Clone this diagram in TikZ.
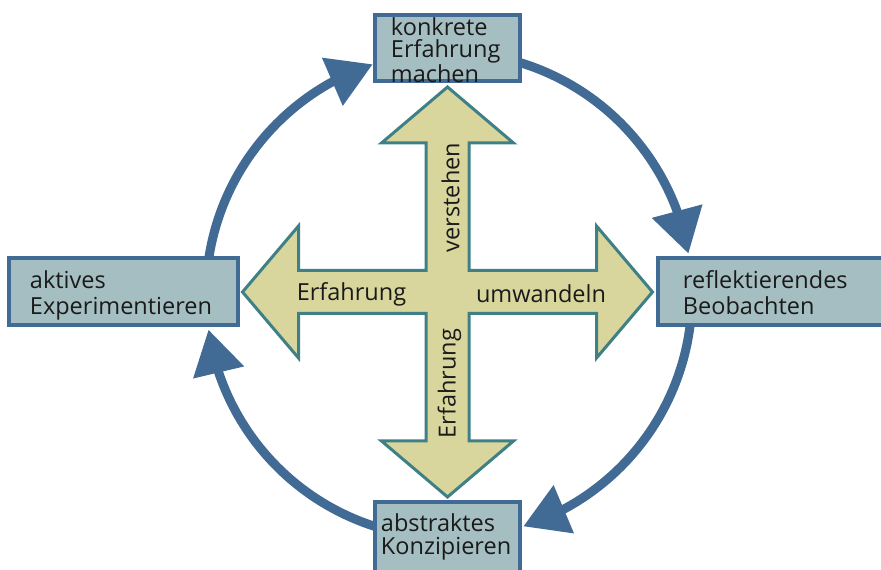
\documentclass[tikz,border=0pt]{standalone}
\usepackage{fontspec}
\setmainfont{Open Sans}
\usetikzlibrary{arrows.meta,bending}
\definecolor{boxblue}{HTML}{416A94}
\definecolor{boxfill}{HTML}{A5BEC2}
\definecolor{crossfill}{HTML}{D8D69C}
\definecolor{crossline}{HTML}{3F8086}
\definecolor{textblack}{HTML}{1A1A1A}
\begin{document}
\begin{tikzpicture}[x=1pt,y=1pt,
  box/.style={draw=boxblue, fill=boxfill, line width=4.5pt, inner sep=0pt},
  boxtext/.style={inner sep=0pt, align=left, anchor=west, text=textblack},
  cyclearrow/.style={draw=boxblue, line width=9pt, -{Triangle[length=44pt,width=50pt]}},
  crosslabel/.style={inner sep=0pt, text=textblack, font=\fontsize{23.5}{26}\selectfont}]
\useasboundingbox (0,0) rectangle (881,570);
\coordinate (C) at (449,275);
% cycle arcs
\draw[cyclearrow] ([shift={(173:243)}]C) arc[start angle=173, end angle=108.3, radius=243];
\draw[cyclearrow] ([shift={(74:243)}]C) arc[start angle=74, end angle=9.8, radius=243];
\draw[cyclearrow] ([shift={(-5:243)}]C) arc[start angle=-5, end angle=-72.2, radius=243];
\draw[cyclearrow] ([shift={(-106:243)}]C) arc[start angle=-106, end angle=-171.8, radius=243];
% cross
\begin{scope}[shift={(447.5,278)}]
\draw[fill=crossfill, draw=crossline, line width=3pt, line join=miter]
  (0,205) -- (66,149) -- (21.5,149) -- (21.5,21.5) -- (149,21.5) -- (149,66) --
  (205,0) -- (149,-66) -- (149,-21.5) -- (21.5,-21.5) -- (21.5,-149) -- (66,-149) --
  (0,-205) -- (-66,-149) -- (-21.5,-149) -- (-21.5,-21.5) -- (-149,-21.5) -- (-149,-66) --
  (-205,0) -- (-149,66) -- (-149,21.5) -- (-21.5,21.5) -- (-21.5,149) -- (-66,149) -- cycle;
\end{scope}
\node[crosslabel] (lE) at (351.5,276) {Erfahrung};
\node[crosslabel] (lU) at (541,276) {umwandeln};
\node[crosslabel, rotate=90] (lV) at (450.5,372.5) {verstehen};
\node[crosslabel, rotate=90] (lE2) at (449.5,186.5) {Erfahrung};
% boxes
\node[box, minimum width=145, minimum height=66] (top) at (447.5,522) {};
\node[box, minimum width=229, minimum height=67] (left) at (123.5,278.5) {};
\node[box, minimum width=228, minimum height=67] (right) at (772,278.5) {};
\node[box, minimum width=145, minimum height=72] (bottom) at (447.5,32) {};
\node[boxtext, font=\fontsize{23.5}{22.5}\selectfont] (topt) at ([xshift=18pt,yshift=-2pt]top.west) {konkrete\\Erfahrung\\machen};
\node[boxtext, font=\fontsize{23.5}{26}\selectfont] (leftt) at ([xshift=23pt,yshift=-3.5pt]left.west) {aktives\\Experimentieren};
\node[boxtext, font=\fontsize{23.5}{26}\selectfont] (rightt) at ([xshift=27pt,yshift=-1.5pt]right.west) {reflektierendes\\Beobachten};
\node[boxtext, font=\fontsize{23.5}{23}\selectfont] (bottomt) at ([xshift=8pt,yshift=1pt]bottom.west) {abstraktes\\Konzipieren};
\end{tikzpicture}
\end{document}
